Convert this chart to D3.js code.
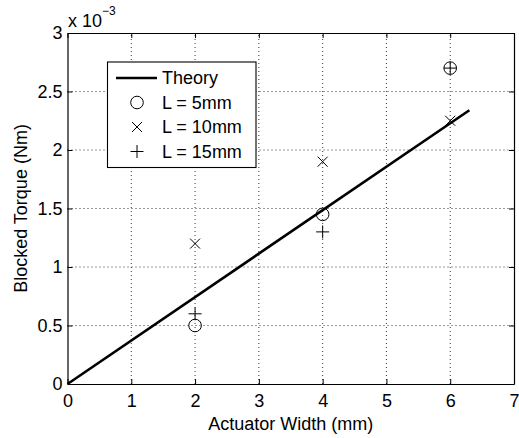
<!DOCTYPE html>
<html>
<head>
<meta charset="utf-8">
<script src="https://cdn.jsdelivr.net/npm/d3@7"></script>
<style>
  html, body { margin: 0; padding: 0; background: #fff; }
  svg { display: block; font-family: "Liberation Sans", Arial, Helvetica, sans-serif; }
</style>
</head>
<body>
<svg id="chart" width="519" height="438"></svg>
<script>
// Actuator width (mm) at which each specimen was tested
const widths = [2, 4, 6];
// Measured blocked torque (x 10^-3 Nm) for each actuator length
const torqueL5 = [0.5, 1.45, 2.7];
const torqueL10 = [1.2, 1.9, 2.25];
const torqueL15 = [0.6, 1.3, 2.7];
// Theoretical prediction: straight line through the origin
const theoryX = [0, 6.3];
const theoryY = [0, 2.34];
// Axis ticks
const xTicks = [0, 1, 2, 3, 4, 5, 6, 7];
const yTicks = [0, 0.5, 1, 1.5, 2, 2.5, 3];
const legendLabels = ["Theory", "L = 5mm", "L = 10mm", "L = 15mm"];

const svg = d3.select("#chart");
const plotLeft = 67.5, plotRight = 514, plotTop = 33, plotBottom = 384;

const x = d3.scaleLinear().domain([0, 7]).range([plotLeft, plotRight]);
const y = d3.scaleLinear().domain([0, 3]).range([plotBottom, plotTop]);

// Dotted grid
const grid = svg.append("g").attr("stroke", "#222").attr("stroke-width", 0.9)
  .attr("stroke-dasharray", "1,3");
grid.selectAll(".gx").data(xTicks.slice(1, -1)).join("line")
  .attr("x1", d => x(d)).attr("x2", d => x(d))
  .attr("y1", plotBottom).attr("y2", plotTop);
grid.selectAll(".gy").data(yTicks.slice(1, -1)).join("line")
  .attr("y1", d => y(d)).attr("y2", d => y(d))
  .attr("x1", plotLeft).attr("x2", plotRight);

// Axes with inward ticks on all four sides
const fontSize = 18;
const axB = svg.append("g").attr("transform", `translate(0,${plotBottom})`)
  .call(d3.axisBottom(x).tickValues(xTicks).tickFormat(d3.format("d"))
    .tickSizeInner(-5).tickSizeOuter(0).tickPadding(10));
const axT = svg.append("g").attr("transform", `translate(0,${plotTop})`)
  .call(d3.axisTop(x).tickValues(xTicks).tickFormat("")
    .tickSizeInner(-5).tickSizeOuter(0));
const axL = svg.append("g").attr("transform", `translate(${plotLeft},0)`)
  .call(d3.axisLeft(y).tickValues(yTicks).tickFormat(d => d3.format("")(d))
    .tickSizeInner(-5).tickSizeOuter(0).tickPadding(5));
const axR = svg.append("g").attr("transform", `translate(${plotRight},0)`)
  .call(d3.axisRight(y).tickValues(yTicks).tickFormat("")
    .tickSizeInner(-5).tickSizeOuter(0));
[axB, axT, axL, axR].forEach(a => {
  a.select(".domain").attr("stroke", "#000").attr("stroke-width", 1.2);
  a.selectAll(".tick line").attr("stroke", "#000").attr("stroke-width", 1);
  a.selectAll("text").attr("fill", "#000").attr("font-size", fontSize)
    .attr("font-family", "Liberation Sans, Arial, sans-serif");
});

// Exponent note above the y axis
const expo = svg.append("text").attr("x", 68).attr("y", 27)
  .attr("font-size", fontSize).attr("fill", "#000");
expo.append("tspan").text("x 10");
expo.append("tspan").attr("font-size", 12).attr("dy", -12).text("\u22123");

// Axis titles
svg.append("text").attr("x", (plotLeft + plotRight) / 2).attr("y", 430)
  .attr("text-anchor", "middle").attr("font-size", fontSize).attr("fill", "#000")
  .text("Actuator Width (mm)");
svg.append("text")
  .attr("transform", `translate(27,${(plotTop + plotBottom) / 2}) rotate(-90)`)
  .attr("text-anchor", "middle").attr("font-size", fontSize).attr("fill", "#000")
  .text("Blocked Torque (Nm)");

// Theory line
svg.append("line")
  .attr("x1", x(theoryX[0])).attr("y1", y(theoryY[0]))
  .attr("x2", x(theoryX[1])).attr("y2", y(theoryY[1]))
  .attr("stroke", "#000").attr("stroke-width", 2.6);

// Marker shapes
const markers = {
  circle: (g) => g.append("circle").attr("r", 6.3).attr("fill", "none")
    .attr("stroke", "#000").attr("stroke-width", 1),
  cross: (g) => g.append("path").attr("d", "M-5,-5L5,5M-5,5L5,-5")
    .attr("fill", "none").attr("stroke", "#000").attr("stroke-width", 1),
  plus: (g) => g.append("path").attr("d", "M-6.5,0H6.5M0,-6.5V6.5")
    .attr("fill", "none").attr("stroke", "#000").attr("stroke-width", 1)
};

const series = [
  { values: torqueL5, shape: "circle" },
  { values: torqueL10, shape: "cross" },
  { values: torqueL15, shape: "plus" }
];
series.forEach(s => {
  s.values.forEach((v, i) => {
    const g = svg.append("g").attr("transform", `translate(${x(widths[i])},${y(v)})`);
    markers[s.shape](g);
  });
});

// Legend
const lg = svg.append("g");
lg.append("rect").attr("x", 107.5).attr("y", 62).attr("width", 148.5).attr("height", 105.5)
  .attr("fill", "#fff").attr("stroke", "#000").attr("stroke-width", 1.1);
const rowY = [78, 102.5, 127, 151.5];
lg.append("line").attr("x1", 116).attr("x2", 157).attr("y1", rowY[0]).attr("y2", rowY[0])
  .attr("stroke", "#000").attr("stroke-width", 2.6);
["circle", "cross", "plus"].forEach((shape, i) => {
  const g = lg.append("g").attr("transform", `translate(137,${rowY[i + 1]})`);
  markers[shape](g);
});
legendLabels.forEach((t, i) => {
  lg.append("text").attr("x", 162).attr("y", rowY[i]).attr("dy", "0.36em")
    .attr("font-size", fontSize).attr("fill", "#000").text(t);
});
</script>
</body>
</html>
